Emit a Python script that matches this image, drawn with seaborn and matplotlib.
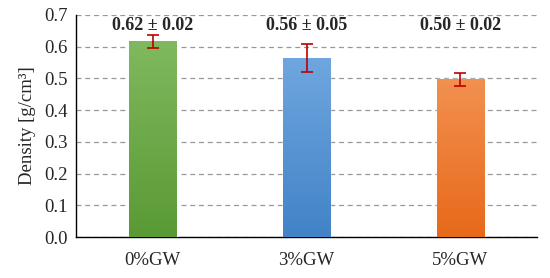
import matplotlib.pyplot as plt
import matplotlib.colors as mcolors
import seaborn as sns
import numpy as np
import pandas as pd

groups = ["0%GW", "3%GW", "5%GW"]
density = [0.616, 0.564, 0.497]
errors = [0.02, 0.045, 0.021]
labels = ["0.62 ± 0.02", "0.56 ± 0.05", "0.50 ± 0.02"]
top_colors = ["#7fb95f", "#6fa6df", "#f2904f"]
bottom_colors = ["#5a9a34", "#4283c7", "#e7691a"]

sns.set_style("white")
plt.rcParams["font.family"] = ["Liberation Serif", "DejaVu Serif"]

df = pd.DataFrame({"group": groups, "density": density})

fig, ax = plt.subplots(figsize=(5.5, 2.78), dpi=100)
sns.barplot(data=df, x="group", y="density", hue="group", palette=bottom_colors,
            width=0.31, legend=False, ax=ax, zorder=3)

# vertical gradient inside each bar
for patch, c_top, c_bot in zip(ax.patches, top_colors, bottom_colors):
    x0, y0 = patch.get_x(), patch.get_y()
    w, h = patch.get_width(), patch.get_height()
    cmap = mcolors.LinearSegmentedColormap.from_list("g", [c_bot, c_top])
    grad = np.linspace(0, 1, 100).reshape(-1, 1)
    im = ax.imshow(grad, cmap=cmap, origin="lower", aspect="auto",
                   extent=[x0, x0 + w, y0, y0 + h], zorder=3)
    im.set_clip_path(patch)
ax.set_xlim(-0.5, 2.5)
ax.set_ylim(0, 0.7)

centers = [p.get_x() + p.get_width() / 2 for p in ax.patches]
ax.errorbar(centers, density, yerr=errors, fmt="none", ecolor="#c00000",
            elinewidth=1.2, capsize=4, capthick=1.2, zorder=4)

for cx, lab in zip(centers, labels):
    ax.text(cx, 0.667, lab, ha="center", va="center", fontsize=13,
            fontweight="bold", zorder=5)

ticks = np.arange(0, 0.71, 0.1)
ax.set_yticks(ticks)
ax.set_yticklabels([f"{v:.1f}" for v in ticks])
ax.yaxis.grid(True, linestyle=(0, (4, 3)), color="#999999", linewidth=0.9, zorder=0)
ax.set_axisbelow(True)
ax.tick_params(axis="both", length=0, labelsize=13.5, pad=6)
ax.tick_params(axis="x", pad=11)
ax.set_xlabel("")
ax.set_ylabel("Density [g/cm³]", fontsize=13.5, labelpad=6)

for s in ["top", "right"]:
    ax.spines[s].set_visible(False)
for s in ["left", "bottom"]:
    ax.spines[s].set_color("black")
    ax.spines[s].set_linewidth(1.0)

fig.subplots_adjust(left=0.138, right=0.977, top=0.947, bottom=0.147)
fig.savefig("out.png", dpi=100)
